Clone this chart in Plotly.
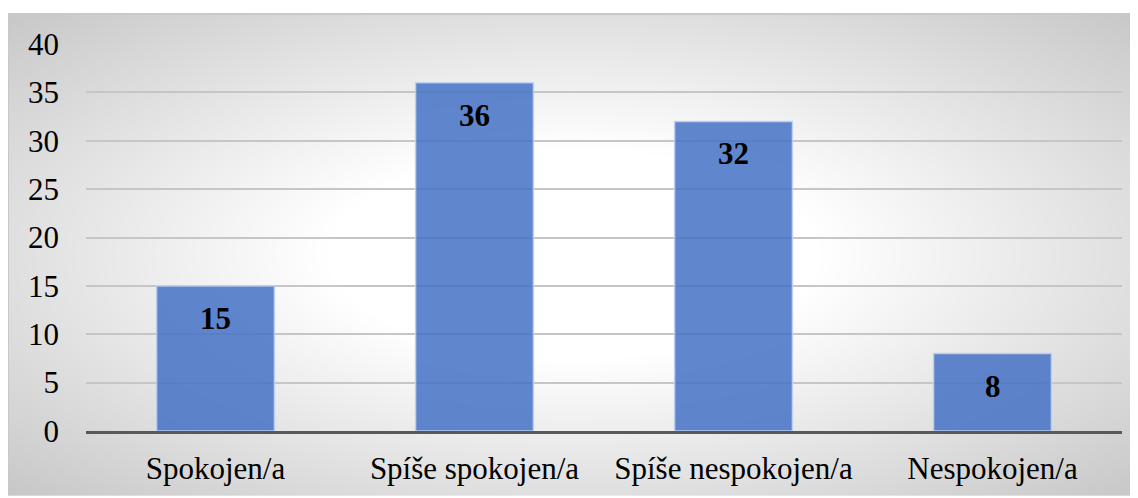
import base64
import struct
import zlib

import numpy as np
import plotly.graph_objects as go

categories = ["Spokojen/a", "Spíše spokojen/a", "Spíše nespokojen/a", "Nespokojen/a"]
values = [15, 36, 32, 8]
y_ticks = [0, 5, 10, 15, 20, 25, 30, 35, 40]

# ---- background: radial grey-to-white gradient (chart area style) ----
W, H = 1130, 485
cx, cy = 565, 242
yy, xx = np.mgrid[0:H, 0:W].astype(float)
d = np.sqrt(((xx - cx) / (W / 2)) ** 2 + ((yy - cy) / (H / 2)) ** 2) / np.sqrt(2)
g = 255 - 80 * np.clip(d - 0.31, 0, None)
g = np.clip(g, 195, 255).astype(np.uint8)
g[0, :] = 190
g[1, :] = 205
g[:, 0] = 200


def png_gray(arr):
    h, w = arr.shape
    raw = b"".join(b"\x00" + arr[i].tobytes() for i in range(h))

    def chunk(t, data):
        c = struct.pack(">I", len(data)) + t + data
        return c + struct.pack(">I", zlib.crc32(t + data) & 0xFFFFFFFF)

    ihdr = struct.pack(">IIBBBBB", w, h, 8, 0, 0, 0, 0)
    return (b"\x89PNG\r\n\x1a\n" + chunk(b"IHDR", ihdr)
            + chunk(b"IDAT", zlib.compress(raw, 9)) + chunk(b"IEND", b""))


bg_uri = "data:image/png;base64," + base64.b64encode(png_gray(g)).decode()

# figure is placed at page offset (8, 8) by the default body margin
FW, FH = 1130, 490
L, R, T, B = 78, 16, 36, 65
PW, PH = FW - L - R, FH - T - B

fig = go.Figure()
fig.add_trace(go.Bar(
    x=categories, y=values, width=0.455,
    marker=dict(color="rgba(68,114,196,0.85)",
                line=dict(color="rgba(190,208,240,0.9)", width=1.5)),
    hoverinfo="x+y",
))

for c, v in zip(categories, values):
    fig.add_annotation(x=c, y=v, text=f"<b>{v}</b>", showarrow=False,
                       yanchor="top", yshift=-13,
                       font=dict(family="Liberation Serif", size=31, color="black"))

fig.add_layout_image(dict(
    source=bg_uri, xref="paper", yref="paper",
    x=(0 - L) / PW, y=(FH - B - 5) / PH,
    sizex=W / PW, sizey=H / PH,
    xanchor="left", yanchor="top", sizing="stretch", layer="below",
))

fig.update_layout(
    width=FW, height=FH,
    margin=dict(l=L, r=R, t=T, b=B),
    paper_bgcolor="white", plot_bgcolor="rgba(0,0,0,0)",
    showlegend=False, bargap=0.545,
    font=dict(family="Liberation Serif", size=31, color="black"),
)
fig.update_yaxes(range=[0, 40], tickvals=y_ticks, showgrid=True,
                 gridcolor="#c6c6c6", gridwidth=1.5, zeroline=False,
                 showline=False, ticks="", ticklabelstandoff=26,
                 tickfont=dict(family="Liberation Serif", size=31, color="black"))
fig.update_xaxes(showline=True, linecolor="#595959", linewidth=3,
                 ticks="", ticklabelstandoff=8, showgrid=False,
                 tickfont=dict(family="Liberation Serif", size=31, color="black"))

fig.write_html("out.html")
